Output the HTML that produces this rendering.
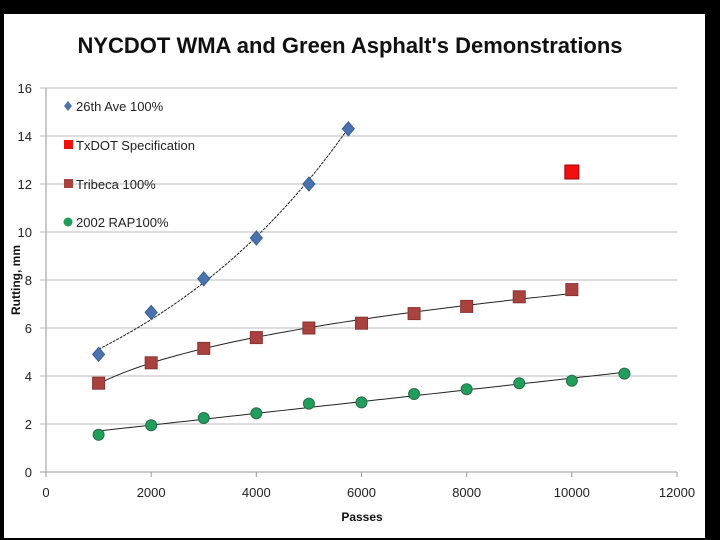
<!DOCTYPE html>
<html><head><meta charset="utf-8"><style>
body{margin:0;background:#000;width:720px;height:540px;overflow:hidden}
svg{display:block}
text{font-family:"Liberation Sans",sans-serif}
</style></head><body>
<svg id="c" width="720" height="540">
<rect x="4" y="14" width="701" height="524" fill="#fff"/>
<text x="350" y="53" text-anchor="middle" font-size="22" font-weight="bold" fill="#111">NYCDOT WMA and Green Asphalt's Demonstrations</text>
<text transform="translate(20,280) rotate(-90)" text-anchor="middle" font-size="12" font-weight="bold" fill="#111">Rutting, mm</text>
<text x="362" y="521" text-anchor="middle" font-size="12" font-weight="bold" fill="#111">Passes</text>
<g id="g"></g>
</svg>
<script>
const xTicks=[0,2000,4000,6000,8000,10000,12000];
const yTicks=[0,2,4,6,8,10,12,14,16];
const aveX=[1000,2000,3000,4000,5000,5750];
const aveY=[4.9,6.65,8.05,9.75,12.0,14.3];
const triX=[1000,2000,3000,4000,5000,6000,7000,8000,9000,10000];
const triY=[3.7,4.55,5.15,5.6,6.0,6.2,6.6,6.9,7.3,7.6];
const rapX=[1000,2000,3000,4000,5000,6000,7000,8000,9000,10000,11000];
const rapY=[1.55,1.95,2.25,2.45,2.85,2.9,3.25,3.45,3.7,3.8,4.1];
const txX=[10000];
const txY=[12.5];
const X=v=>46+v/12000*631, Y=v=>472-v*24;
const g=document.getElementById('g'),NS='http://www.w3.org/2000/svg';
function mk(t,a,p){const e=document.createElementNS(NS,t);for(const k in a)e.setAttribute(k,a[k]);(p||g).appendChild(e);return e;}
yTicks.forEach(v=>{
 const l=mk('line',{x1:40,x2:677,y1:Y(v),y2:Y(v),stroke:v===0?'#999':'#bbb'});
 
 
 const t=mk('text',{x:32,y:Y(v)+5,'text-anchor':'end','font-size':13,fill:'#222'});t.textContent=v;
 
 
});
const ax=mk('line',{x1:46,x2:46,y1:Y(16),y2:Y(0)+5,stroke:'#999'});


xTicks.forEach(v=>{
 mk('line',{x1:X(v),x2:X(v),y1:472,y2:477,stroke:'#999'});
 const t=mk('text',{x:X(v),y:497,'text-anchor':'middle','font-size':13,fill:'#222'});t.textContent=v;
 
 
});
function linfit(xs,ys){const n=xs.length;let sx=0,sy=0,sxx=0,sxy=0;xs.forEach((x,i)=>{sx+=x;sy+=ys[i];sxx+=x*x;sxy+=x*ys[i];});const b=(n*sxy-sx*sy)/(n*sxx-sx*sx);return [(sy-b*sx)/n,b];}
function trend(xs,f,name){let d='';const a=xs[0],b=xs[xs.length-1];for(let i=0;i<=60;i++){const x=a+(b-a)*i/60;d+=(i?'L':'M')+X(x)+' '+Y(f(x));}
 const p=mk('path',{d,fill:'none',stroke:'#222','stroke-width':1,'stroke-dasharray':name==='ave'?'3 1':''});
 
 }
let [ea,eb]=linfit(aveX,aveY.map(Math.log));trend(aveX,x=>Math.exp(ea+eb*x),'ave');
let [pa,pb]=linfit(triX.map(Math.log),triY.map(Math.log));trend(triX,x=>Math.exp(pa)*Math.pow(x,pb),'tribeca');
let [ra,rb]=linfit(rapX,rapY);trend(rapX,x=>ra+rb*x,'rap');
aveX.forEach((x,i)=>{const cx=X(x),cy=Y(aveY[i]);const e=mk('polygon',{points:`${cx},${cy-7} ${cx+6},${cy} ${cx},${cy+7} ${cx-6},${cy}`,fill:'#4a72b0',stroke:'#3a5f95'});
 
 });
triX.forEach((x,i)=>{const e=mk('rect',{x:X(x)-6,y:Y(triY[i])-6,width:12,height:12,fill:'#a9413f',stroke:'#8a3331'});
 
 });
rapX.forEach((x,i)=>{const e=mk('circle',{cx:X(x),cy:Y(rapY[i]),r:5.5,fill:'#1f9e5c',stroke:'#2b6b4b'});
 
 });
txX.forEach((x,i)=>{const e=mk('rect',{x:X(x)-7,y:Y(txY[i])-7,width:14,height:14,fill:'#f01010',stroke:'#a00'});
 
 });
const leg=[['26th Ave 100%','d','#4a72b0',106],['TxDOT Specification','s','#f01010',145],['Tribeca 100%','s','#a9413f',184],['2002 RAP100%','c','#1f9e5c',222]];
leg.forEach(([t,s,c,y])=>{
 if(s==='d')mk('polygon',{points:`68,${y-5} 72,${y} 68,${y+5} 64,${y}`,fill:c});
 else if(s==='s')mk('rect',{x:64,y:y-5,width:9,height:9,fill:c});
 else mk('circle',{cx:68,cy:y,r:4.5,fill:c});
 const e=mk('text',{x:76,y:y+5,'font-size':13,fill:'#222'});e.textContent=t;
 
 
});
</script>
</body></html>
